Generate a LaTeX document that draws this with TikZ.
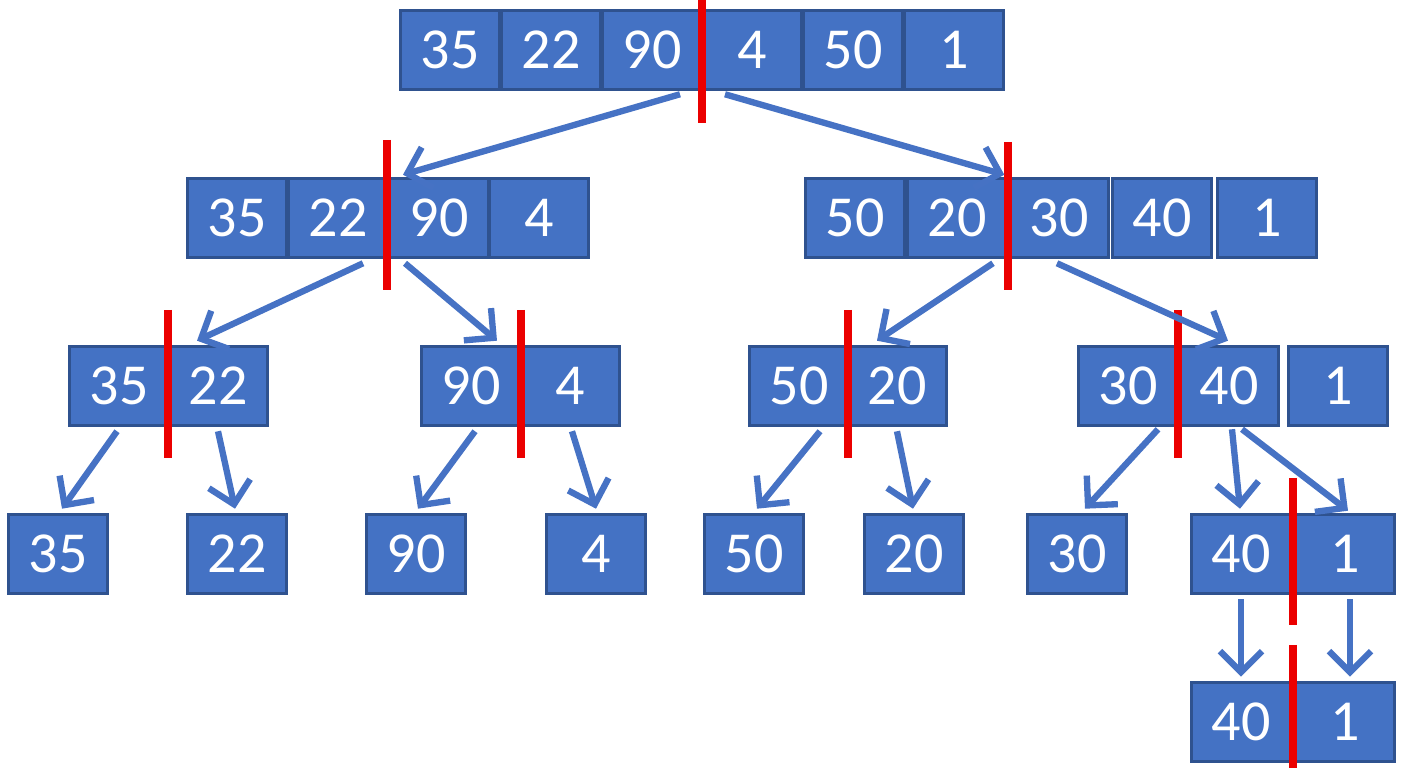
\documentclass[tikz,border=0pt]{standalone}
\usepackage{fontspec}
\setmainfont{Carlito}
\definecolor{cellblue}{RGB}{68, 114, 196}
\definecolor{celledge}{RGB}{47, 82, 143}
\definecolor{arrowblue}{RGB}{70, 114, 196}
\definecolor{splitred}{RGB}{235, 0, 0}
\usetikzlibrary{arrows.meta, calc}

\begin{document}
\begin{tikzpicture}[x=0.01cm, y=-0.01cm,
  cell/.style={draw=celledge, fill=cellblue, line width=1pt, minimum width=0.99cm, minimum height=0.79cm,
    inner sep=0pt, text=white, font=\fontsize{16.5}{18}\selectfont},
  link/.style={arrowblue, line width=1.8pt, -{Straight Barb[length=6pt, width=12pt, line width=1.8pt]}},
  split/.style={splitred, line width=2.2pt}]
  \useasboundingbox (0,0) rectangle (1408,768);

  % Level 0
  \node[cell] (a1) at (450, 50) {35};
  \node[cell] (a2) at (551, 50) {22};
  \node[cell] (a3) at (652, 50) {90};
  \node[cell] (a4) at (752, 50) {4};
  \node[cell] (a5) at (853, 50) {50};
  \node[cell] (a6) at (954, 50) {1};

  % Level 1
  \node[cell] (b1) at (237, 218) {35};
  \node[cell] (b2) at (338, 218) {22};
  \node[cell] (b3) at (439, 218) {90};
  \node[cell] (b4) at (539, 218) {4};
  \node[cell] (c1) at (855, 218) {50};
  \node[cell] (c2) at (957, 218) {20};
  \node[cell] (c3) at (1059, 218) {30};
  \node[cell] (c4) at (1162, 218) {40};
  \node[cell] (c5) at (1267, 218) {1};

  % Level 2
  \node[cell] (d1) at (119, 386) {35};
  \node[cell] (d2) at (218, 386) {22};
  \node[cell] (e1) at (471, 386) {90};
  \node[cell] (e2) at (570, 386) {4};
  \node[cell] (f1) at (799, 386) {50};
  \node[cell] (f2) at (897, 386) {20};
  \node[cell] (g1) at (1128, 386) {30};
  \node[cell] (g2) at (1229, 386) {40};
  \node[cell] (g3) at (1338, 386) {1};

  % Level 3
  \node[cell] (l35) at (58, 554) {35};
  \node[cell] (l22) at (237, 554) {22};
  \node[cell] (l90) at (416, 554) {90};
  \node[cell] (l4) at (596, 554) {4};
  \node[cell] (l50) at (754, 554) {50};
  \node[cell] (l20) at (914, 554) {20};
  \node[cell] (l30) at (1077, 554) {30};
  \node[cell] (l40) at (1241, 554) {40};
  \node[cell] (l1) at (1345, 554) {1};

  % Level 4
  \node[cell] (m40) at (1241, 722) {40};
  \node[cell] (m1) at (1345, 722) {1};

  % Split marks
  \draw[split] (702, 0) -- (702, 123);
  \draw[split] (387, 140) -- (387, 290);
  \draw[split] (1008, 142) -- (1008, 290);
  \draw[split] (168, 310) -- (168, 458);
  \draw[split] (521, 310) -- (521, 458);
  \draw[split] (848, 310) -- (848, 458);
  \draw[split] (1178, 310) -- (1178, 458);
  \draw[split] (1293, 478) -- (1293, 625);
  \draw[split] (1293, 645) -- (1293, 768);

  % Arrows
  \draw[link] ($(a3.south)+(28,3)$) -- ($(b3.north)+(-36,-2)$);
  \draw[link] ($(a4.south)+(-27,3)$) -- ($(c2.north east)+(-4,-2)$);
  \draw[link] ($(b2.south)+(25,4)$) -- ($(d2.north)+(-21,-4)$);
  \draw[link] ($(b3.south)+(-34,4)$) -- ($(e1.north)+(26,-4)$);
  \draw[link] ($(c2.south)+(36,4)$) -- ($(f2.north)+(-20,-4)$);
  \draw[link] ($(c3.south)+(-2,4)$) -- ($(g2.north)+(-1,-4)$);
  \draw[link] ($(d1.south)+(-2,4)$) -- ($(l35.north)+(4,-4)$);
  \draw[link] ($(d2.south)+(0,4)$) -- ($(l22.north)+(-2,-4)$);
  \draw[link] ($(e1.south)+(4,4)$) -- ($(l90.north)+(2,-4)$);
  \draw[link] ($(e2.south)+(2,4)$) -- ($(l4.north)+(0,-4)$);
  \draw[link] ($(f1.south)+(21,4)$) -- ($(l50.north)+(3,-4)$);
  \draw[link] ($(f2.south)+(0,4)$) -- ($(l20.north)+(-1,-4)$);
  \draw[link] ($(g1.south)+(30,2)$) -- ($(l30.north)+(8,-4)$);
  \draw[link] ($(g2.south)+(3,2)$) -- ($(l40.north)+(-1,-4)$);
  \draw[link] ($(g2.south)+(13,2)$) -- ($(l1.north)+(3,-2)$);
  \draw[link] ($(l40.south)+(0,4)$) -- ($(m40.north)+(0,-4)$);
  \draw[link] ($(l1.south)+(5,4)$) -- ($(m1.north)+(5,-4)$);
\end{tikzpicture}
\end{document}
